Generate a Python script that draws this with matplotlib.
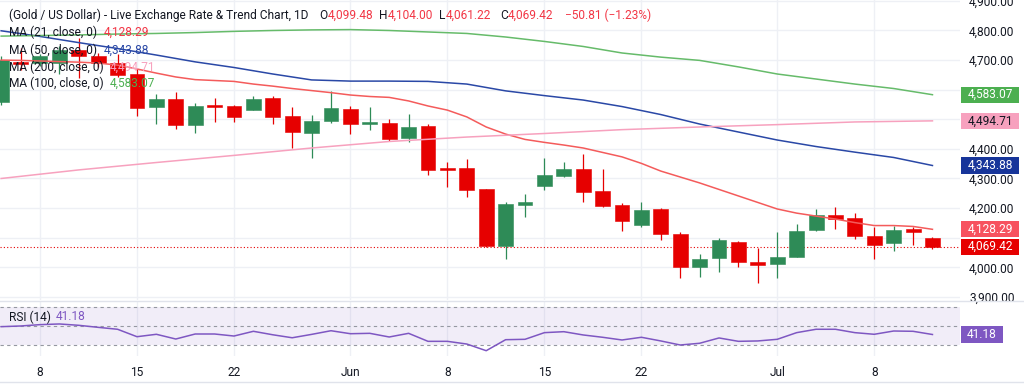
import numpy as np
import pandas as pd
import matplotlib
matplotlib.use("Agg")
import matplotlib.pyplot as plt
from matplotlib.patches import Rectangle
from matplotlib.lines import Line2D
from matplotlib.transforms import blended_transform_factory

plt.rcParams['font.family'] = ['Roboto', 'DejaVu Sans']

# daily bars, gold / usd
dates = pd.bdate_range('2026-05-06', '2026-07-13')
opens = [4559, 4692, 4689, 4690, 4734, 4714, 4689, 4652, 4540, 4567,
         4482, 4546, 4545, 4531, 4571, 4512, 4455, 4494, 4534, 4484,
         4488, 4436, 4477, 4332, 4334, 4263, 4072, 4210, 4275, 4309,
         4331, 4258, 4209, 4143, 4196, 4112, 4000, 4032, 4086, 4017,
         4010, 4036, 4126, 4178, 4166, 4106, 4081, 4128, 4099.48]
highs = [4715, 4740, 4722, 4748, 4776, 4724, 4722, 4670, 4585, 4593,
         4554, 4571, 4547, 4579, 4579, 4540, 4514, 4596, 4545, 4540,
         4500, 4517, 4484, 4357, 4366, 4266, 4222, 4248, 4370, 4357,
         4383, 4332, 4216, 4222, 4201, 4119, 4044, 4098, 4090, 4066,
         4118, 4146, 4197, 4203, 4182, 4137, 4141, 4137, 4104.00]
lows = [4548, 4666, 4680, 4652, 4640, 4676, 4644, 4512, 4483, 4466,
        4455, 4492, 4492, 4531, 4483, 4404, 4368, 4488, 4450, 4464,
        4428, 4424, 4312, 4272, 4238, 4069, 4027, 4171, 4261, 4306,
        4222, 4205, 4124, 4137, 4092, 3963, 3966, 3985, 4002, 3946,
        3963, 4034, 4124, 4130, 4095, 4027, 4056, 4075, 4061.22]
closes = [4700, 4686, 4714, 4733, 4714, 4689, 4650, 4537, 4567, 4482,
          4545, 4543, 4509, 4569, 4507, 4456, 4495, 4537, 4484, 4488,
          4433, 4475, 4329, 4330, 4261, 4072, 4214, 4220, 4312, 4331,
          4255, 4208, 4156, 4193, 4111, 4000, 4028, 4092, 4017, 4009,
          4034, 4124, 4176, 4164, 4106, 4076, 4126, 4120, 4069.42]
change, change_pct = -50.81, -1.23

ma21 = [4700, 4699, 4697, 4695, 4693, 4690, 4683, 4670, 4656, 4643,
        4634, 4631, 4628, 4619, 4612, 4604, 4597, 4590, 4582, 4577,
        4574, 4562, 4545, 4531, 4508, 4474, 4450, 4432, 4422, 4413,
        4403, 4388, 4373, 4351, 4325, 4305, 4285, 4263, 4241, 4219,
        4197, 4183, 4173, 4163, 4151, 4141, 4141, 4138, 4128.29]
ma50_idx = list(range(0, 49, 2))
ma50 = [4799, 4780, 4759, 4739, 4717, 4694, 4675, 4653, 4633, 4629,
        4629, 4628, 4619, 4596, 4580, 4565, 4543, 4516, 4484, 4457,
        4430, 4408, 4389, 4371, 4343.88]
ma100_idx = list(range(0, 49, 2))
ma100 = [4781, 4783, 4785, 4788, 4790, 4793, 4797, 4800, 4802, 4803,
         4800, 4795, 4790, 4778, 4763, 4746, 4724, 4710, 4699, 4677,
         4653, 4636, 4619, 4604, 4583.07]
ma200_idx = list(range(0, 49, 4))
ma200 = [4300, 4329, 4354, 4378, 4403, 4425, 4440, 4452, 4465, 4474,
         4482, 4491, 4494.71]

rsi = [49.3, 50.0, 51.4, 52.1, 50.7, 48.6, 46.6, 38.9, 41.4, 36.5,
       41.7, 41.7, 39.6, 44.5, 40.9, 37.8, 41.3, 45.1, 42.0, 42.4,
       38.6, 42.4, 34.1, 34.1, 31.3, 24.4, 35.8, 36.2, 43.1, 44.1,
       40.7, 38.3, 35.5, 38.3, 34.5, 30.3, 32.1, 37.6, 34.1, 34.5,
       36.2, 43.1, 46.6, 46.6, 43.1, 41.4, 44.8, 44.5, 41.18]

tick_dates = ['2026-05-08', '2026-05-15', '2026-05-22', '2026-06-01', '2026-06-08',
              '2026-06-15', '2026-06-22', '2026-07-01', '2026-07-08']
tick_labels = ['8', '15', '22', 'Jun', '8', '15', '22', 'Jul', '8']
price_ticks = list(range(3900, 5000, 100))
hidden_ticks = [4100, 4500, 4600]  # sit under the value tags

GREEN = '#2e8b57'
RED = '#e60000'
TXT = '#131722'
GRID = '#eef0f5'
C21, C50, C100, C200 = '#f45b5b', '#2a48a6', '#66bb6a', '#f7a1be'
PURPLE = '#7e57c2'
FS = 8.6

W, H = 1024, 390
fig = plt.figure(figsize=(W / 100, H / 100), dpi=100)
ax = fig.add_axes([0, 90 / H, 960 / W, 300 / H])
ax2 = fig.add_axes([0, 34 / H, 960 / W, 55 / H])

x = np.arange(len(closes))
o, h, l, c = map(np.array, (opens, highs, lows, closes))
cols = np.where(c >= o, GREEN, RED)
tick_pos = [dates.get_loc(pd.Timestamp(d)) for d in tick_dates]

# grid
for a in (ax, ax2):
    for tp in tick_pos:
        a.axvline(tp, color=GRID, lw=1, zorder=0)
    for s in a.spines.values():
        s.set_visible(False)
for p in price_ticks:
    ax.axhline(p, color=GRID, lw=1, zorder=0)

# candles
ax.vlines(x, l, h, colors=cols, lw=0.9, zorder=2)
body = np.maximum(np.abs(c - o), 6)
ax.bar(x, body, bottom=np.minimum(o, c), width=0.77, color=cols,
       edgecolor=cols, lw=0.4, zorder=3)

# moving averages
ax.plot(x, ma21, color=C21, lw=1.1, zorder=4)
ax.plot(ma50_idx, ma50, color=C50, lw=1.1, zorder=4)
ax.plot(ma100_idx, ma100, color=C100, lw=1.1, zorder=4)
ax.plot(ma200_idx, ma200, color=C200, lw=1.1, zorder=4)
ax.axhline(closes[-1], color=RED, lw=0.8, ls=(0, (1, 2)), zorder=1)

ax.set_xlim(-0.06, 49.42)
ax.set_ylim(3889.5, 4903)
ax.set_xticks([])
ax.yaxis.tick_right()
ax.set_yticks(price_ticks)
ax.set_yticklabels(['' if p in hidden_ticks else f'{p:,.2f}' for p in price_ticks])
ax.tick_params(axis='y', length=0, pad=6.5, labelsize=FS, labelcolor=TXT)

# price tags
def tag(a, y, text, fc, tc, hh, w=58, xc=990):
    tr = blended_transform_factory(a.transAxes, a.transData)
    a.add_patch(Rectangle((961 / 960, y - hh / 2), w / 960, hh, transform=tr,
                          clip_on=False, fc=fc, ec='none', zorder=10))
    a.text(xc / 960, y, text, transform=tr, ha='center', va='center',
           color=tc, fontsize=FS, clip_on=False, zorder=11)

tag(ax, ma100[-1], f'{ma100[-1]:,.2f}', '#4caf50', 'white', 55)
tag(ax, ma200[-1], f'{ma200[-1]:,.2f}', C200, TXT, 55)
tag(ax, ma50[-1], f'{ma50[-1]:,.2f}', '#17359a', 'white', 55)
tag(ax, ma21[-1], f'{ma21[-1]:,.2f}', '#f7525f', 'white', 55)
tag(ax, closes[-1], f'{closes[-1]:,.2f}', RED, 'white', 55)

# RSI pane
ax2.axhspan(30, 70, color=PURPLE, alpha=0.1, lw=0, zorder=0)
for lv in (30, 50, 70):
    ax2.axhline(lv, color='#9598a1', lw=0.8, ls=(0, (3, 3)), zorder=1)
ax2.plot(x, rsi, color=PURPLE, lw=1.1, zorder=3)
ax2.set_xlim(-0.06, 49.42)
ax2.set_ylim(18.9, 75.9)
ax2.set_yticks([])
ax2.set_xticks(tick_pos)
ax2.set_xticklabels(tick_labels)
ax2.tick_params(axis='x', length=0, pad=7, labelsize=FS, labelcolor=TXT)
tag(ax2, rsi[-1], f'{rsi[-1]:.2f}', PURPLE, 'white', 17.6, w=42, xc=982)

# pane borders
for yy in (301, 382):
    fig.add_artist(Line2D([0, 1], [1 - yy / H] * 2, color='#e0e3eb', lw=1))

# legend rows
rend = fig.canvas.get_renderer()

def row(xp, yp, parts, size=FS):
    for s, col in parts:
        t = fig.text(xp / W, 1 - yp / H, s, color=col, fontsize=size,
                     ha='left', va='center', zorder=20)
        xp = t.get_window_extent(rend).x1

row(9, 15.5, [('(Gold / US Dollar) - Live Exchange Rate & Trend Chart, 1D', TXT)])
row(319, 15.5, [('O', TXT), (f'{opens[-1]:,.2f}', '#f23645')])
row(379, 15.5, [('H', TXT), (f'{highs[-1]:,.2f}', '#f23645')])
row(439, 15.5, [('L', TXT), (f'{lows[-1]:,.2f}', '#f23645')])
row(500, 15.5, [('C', TXT), (f'{closes[-1]:,.2f}', '#f23645')])
row(565, 15.5, [(f'\u2212{abs(change):.2f} (\u2212{abs(change_pct):.2f}%)', '#f23645')])

row(9, 32.5, [('MA (21, close, 0)', TXT)])
row(104, 32.5, [(f'{ma21[-1]:,.2f}', '#f23645')])
row(9, 50, [('MA (50, close, 0)', TXT)])
row(104, 50, [(f'{ma50[-1]:,.2f}', C50)])
row(9, 67, [('MA (200, close, 0)', TXT)])
row(110, 67, [(f'{ma200[-1]:,.2f}', C200)])
row(9, 83.5, [('MA (100, close, 0)', TXT)])
row(110, 83.5, [(f'{ma100[-1]:,.2f}', '#4caf50')])
row(9, 317, [('RSI (14)', TXT)])
row(56, 317, [(f'{rsi[-1]:.2f}', PURPLE)])

fig.savefig('out.png', dpi=100)
